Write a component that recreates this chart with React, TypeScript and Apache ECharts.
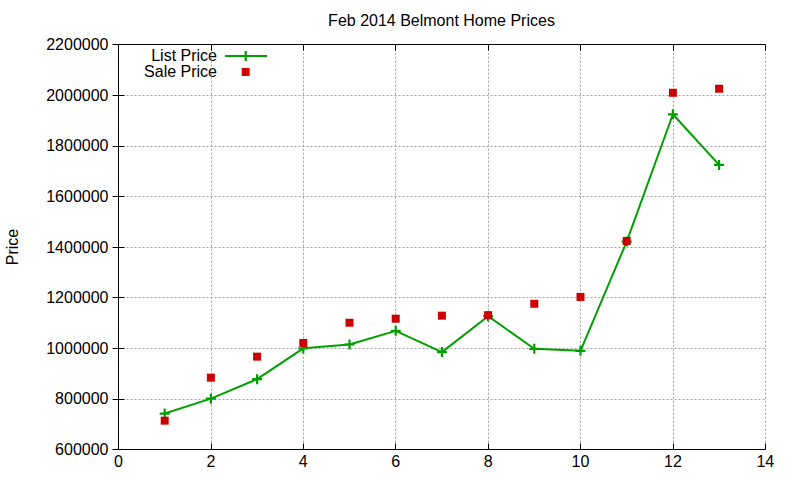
import React, { useEffect, useRef } from "react";
import * as echarts from "echarts";

const months = [1, 2, 3, 4, 5, 6, 7, 8, 9, 10, 11, 12, 13];
const listPrice = [742000, 801000, 878000, 1000000, 1015000, 1069000, 985000, 1127000, 998000, 990000, 1422000, 1925000, 1725000];
const salePrice = [714000, 884000, 967000, 1021000, 1101000, 1117000, 1129000, 1131000, 1176000, 1203000, 1424000, 2010000, 2026000];

const GREEN = "#00a000";
const RED = "#cc0000";
const FONT = "Liberation Sans";
const PLUS = "path://M-1.1,-5H1.1V-1.1H5V1.1H1.1V5H-1.1V1.1H-5V-1.1H-1.1Z";

export default function App() {
  const ref = useRef<HTMLDivElement>(null);
  useEffect(() => {
    document.body.style.margin = "0";
    const chart = echarts.init(ref.current!, null, { renderer: "svg" });
    const split = { show: true, lineStyle: { color: "#a0a0a0", type: [2, 2], width: 1 } };
    const axisLine = { show: true, lineStyle: { color: "#000", width: 1 } };
    const tick = { show: true, inside: true, length: 6, lineStyle: { color: "#000" } };
    const label = { color: "#000", fontSize: 16, fontFamily: FONT };
    chart.setOption({
      animation: false,
      grid: { left: 118.5, right: 34.7, top: 44.7, bottom: 30.5 },
      xAxis: [
        { type: "value", min: 0, max: 14, interval: 2, position: "bottom", axisLine, axisTick: tick, splitLine: split, axisLabel: { ...label, margin: 4 } },
        { type: "value", min: 0, max: 14, interval: 2, position: "top", axisLine, axisTick: tick, splitLine: { show: false }, axisLabel: { show: false } },
      ],
      yAxis: [
        { type: "value", min: 600000, max: 2200000, interval: 200000, position: "left", axisLine, axisTick: tick, splitLine: split, axisLabel: { ...label, margin: 10, formatter: (v: number) => String(v) } },
        { type: "value", min: 600000, max: 2200000, interval: 200000, position: "right", axisLine, axisTick: tick, splitLine: { show: false }, axisLabel: { show: false } },
      ],
      series: [
        {
          name: "List Price",
          type: "line",
          data: months.map((m, i) => [m, listPrice[i]]),
          lineStyle: { color: GREEN, width: 2 },
          itemStyle: { color: GREEN, opacity: 1 },
          symbol: PLUS,
          symbolSize: 10,
          showAllSymbol: true,
        },
        {
          name: "Sale Price",
          type: "scatter",
          data: months.map((m, i) => [m, salePrice[i]]),
          symbol: "rect",
          symbolSize: 8,
          itemStyle: { color: RED, opacity: 1 },
          z: 3,
        },
      ],
      graphic: [
        { type: "text", x: 441.5, y: 20, style: { text: "Feb 2014 Belmont Home Prices", fill: "#000", font: `16px "${FONT}"`, align: "center", verticalAlign: "middle" } },
        { type: "text", x: 12.5, y: 247, rotation: Math.PI / 2, style: { text: "Price", fill: "#000", font: `16px "${FONT}"`, align: "center", verticalAlign: "middle" } },
        { type: "text", x: 217, y: 55, style: { text: "List Price", fill: "#000", font: `16px "${FONT}"`, align: "right", verticalAlign: "middle" } },
        { type: "line", shape: { x1: 225, y1: 56, x2: 267, y2: 56 }, style: { stroke: GREEN, lineWidth: 2 } },
        { type: "polygon", shape: { points: [[244.6, 51], [246.8, 51], [246.8, 54.9], [250.7, 54.9], [250.7, 57.1], [246.8, 57.1], [246.8, 61], [244.6, 61], [244.6, 57.1], [240.7, 57.1], [240.7, 54.9], [244.6, 54.9]] }, style: { fill: GREEN } },
        { type: "text", x: 217, y: 71, style: { text: "Sale Price", fill: "#000", font: `16px "${FONT}"`, align: "right", verticalAlign: "middle" } },
        { type: "rect", shape: { x: 241.7, y: 68, width: 8, height: 8 }, style: { fill: RED } },
      ],
    });
    return () => chart.dispose();
  }, []);
  return <div ref={ref} style={{ position: "absolute", left: 0, top: 0, width: 800, height: 480 }} />;
}
